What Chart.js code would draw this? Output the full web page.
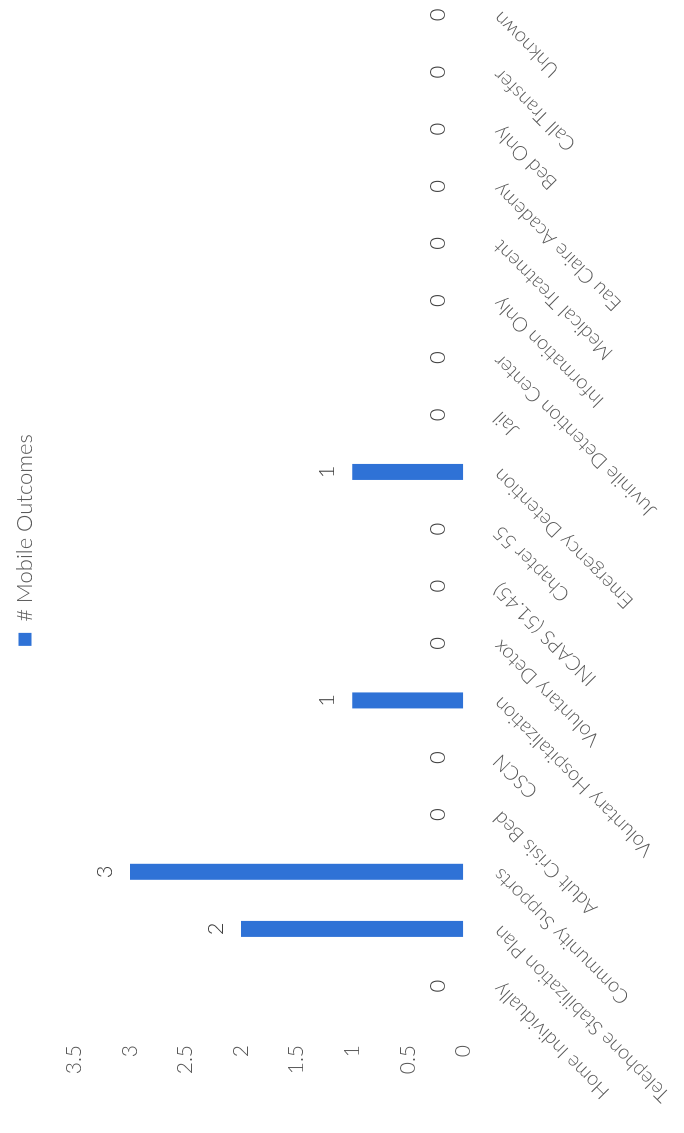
<!DOCTYPE html>
<html>
<head>
<meta charset="utf-8">
<title># Mobile Outcomes</title>
<script src="https://cdn.jsdelivr.net/npm/chart.js@4.4.1/dist/chart.umd.min.js"></script>
<style>
  html,
  body {
    margin: 0;
    padding: 0;
    background: #fff;
    overflow: hidden;
    width: 684px;
    height: 1133px;
  }
  /* the scanned chart is turned a quarter turn counter-clockwise */
  #chart_wrap {
    position: absolute;
    left: 0;
    top: 0;
    width: 1186px;
    height: 684px;
    transform-origin: 0 0;
    transform: translate(0px, 1133px) rotate(-90deg);
  }
</style>
</head>
<body>
<div id="chart_wrap"><canvas id="bar_chart" width="1186" height="684"></canvas></div>
<script>
// data
const categories = [
  "Home Individually",
  "Telephone Stabilization Plan",
  "Community Supports",
  "Adult Crisis Bed",
  "CSCN",
  "Voluntary Hospitalization",
  "Voluntary Detox",
  "INCAPS (51.45)",
  "Chapter 55",
  "Emergency Detention",
  "Jail",
  "Juvinile Detention Center",
  "Information Only",
  "Medical Treatment",
  "Eau Claire Academy",
  "Bed Only",
  "Call Transfer",
  "Unknown",
];
const mobileOutcomes = [0, 2, 3, 0, 0, 1, 0, 0, 0, 1, 0, 0, 0, 0, 0, 0, 0, 0];
const valueTicks = [0, 0.5, 1, 1.5, 2, 2.5, 3, 3.5];

const FONT = "Lato, Carlito, Calibri, 'Open Sans', sans-serif";
const BAR_COLOR = "#2f72d6";

Chart.defaults.font.family = FONT;
Chart.defaults.color = "#595959";

// value labels over every bar (0 included)
const value_labels = {
  id: "value_labels",
  afterDatasetsDraw(chart) {
    const { ctx } = chart;
    const meta = chart.getDatasetMeta(0);
    const values = chart.data.datasets[0].data;
    ctx.save();
    ctx.font = `300 22px ${FONT}`;
    ctx.fillStyle = "#404040";
    ctx.textAlign = "center";
    ctx.textBaseline = "middle";
    meta.data.forEach((bar, i) => {
      ctx.fillText(String(values[i]), bar.x, bar.y - 25);
    });
    ctx.restore();
  },
};

const draw_chart = () => {
  const ctx = document.getElementById("bar_chart").getContext("2d");
  new Chart(ctx, {
    type: "bar",
    data: {
      labels: categories,
      datasets: [
        {
          label: "# Mobile Outcomes",
          data: mobileOutcomes,
          backgroundColor: BAR_COLOR,
          borderWidth: 0,
          inflateAmount: 0,
          barThickness: 16,
        },
      ],
    },
    options: {
      responsive: false,
      animation: false,
      events: [],
      layout: {
        padding: { top: 4, left: 39.4, right: 39.4, bottom: 0 },
      },
      plugins: {
        legend: {
          display: true,
          position: "top",
          labels: {
            boxWidth: 13,
            boxHeight: 13,
            padding: 10,
            color: "#595959",
            font: { size: 22, weight: 300 },
          },
        },
        // empty spacer between legend and plot
        title: {
          display: true,
          text: "",
          weight: 500,
          font: { size: 10 },
          padding: { top: 0, bottom: 16.4 },
        },
        tooltip: { enabled: false },
      },
      scales: {
        x: {
          grid: { display: false },
          border: { display: false },
          ticks: {
            autoSkip: false,
            minRotation: 45,
            maxRotation: 45,
            padding: 17,
            color: "#595959",
            font: { size: 20, weight: 300 },
          },
          afterFit: (scale) => {
            scale.height = 220.7;
            scale.paddingLeft = 0;
            scale.paddingRight = 0;
          },
        },
        y: {
          min: valueTicks[0],
          max: valueTicks[valueTicks.length - 1],
          grid: { display: false },
          border: { display: false },
          afterBuildTicks: (scale) => {
            scale.ticks = valueTicks.map((v) => ({ value: v }));
          },
          ticks: {
            padding: 22.4,
            color: "#595959",
            font: { size: 21, weight: 300 },
            callback: (value) => String(value),
          },
          afterFit: (scale) => {
            scale.width = 79;
          },
        },
      },
    },
    plugins: [value_labels],
  });
};

if (document.fonts && document.fonts.load) {
  document.fonts.load(`300 22px ${FONT}`).then(draw_chart, draw_chart);
} else {
  draw_chart();
}
</script>
</body>
</html>
